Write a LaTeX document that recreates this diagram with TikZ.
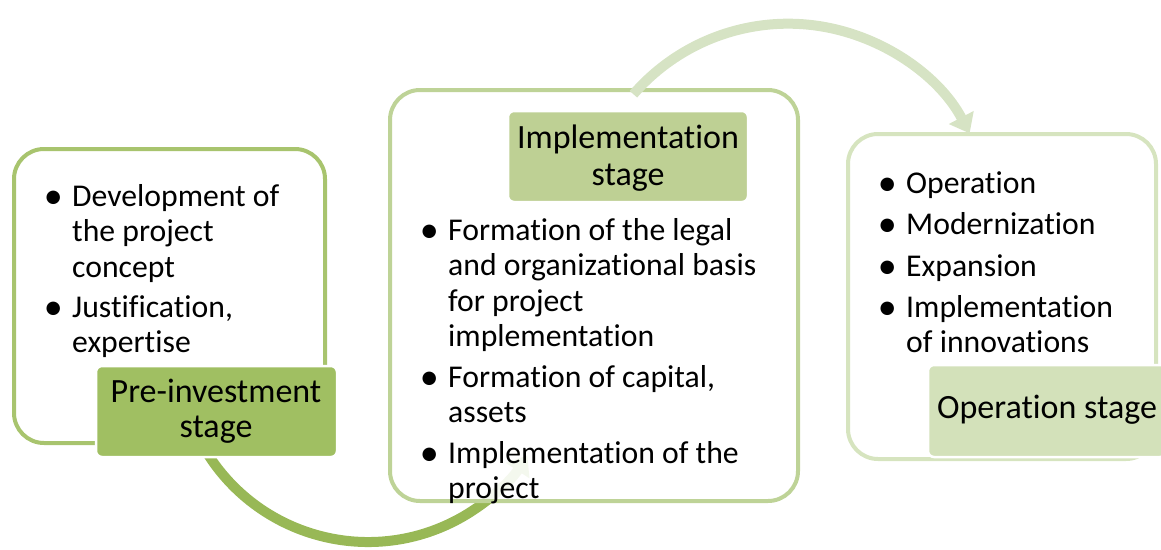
\documentclass[tikz,border=0pt]{standalone}
\usepackage{fontspec}
\setmainfont{Carlito}[Ligatures={NoCommon}]
\usetikzlibrary{arrows.meta}
\definecolor{arrowA}{RGB}{152,184,86}
\definecolor{borderA}{RGB}{168,196,110}
\definecolor{labelA}{RGB}{160,191,98}
\definecolor{borderB}{RGB}{190,211,151}
\definecolor{labelB}{RGB}{190,208,148}
\definecolor{borderC}{RGB}{214,228,191}
\definecolor{labelC}{RGB}{211,225,186}
\definecolor{arrowC}{RGB}{214,227,196}
\newcommand{\bul}{\llap{\raisebox{-2pt}{\scalebox{1.2}{\textbullet}}\hspace{9.5pt}}}
\begin{document}
\begin{tikzpicture}[x=1pt,y=-1pt,
  stagebox/.style={draw, line width=4pt, rounded corners=30pt, fill=white, inner sep=0pt},
  stagelabel/.style={draw=white, line width=2.5pt, rounded corners=6pt, inner sep=0pt},
  body/.style={font=\fontsize{31.7}{35.5}\selectfont, anchor=base west, inner sep=0pt},
  ltext/.style={font=\fontsize{34}{36.5}\selectfont, anchor=base, inner sep=0pt},
  bigarrow/.style={line width=10pt, -{Triangle[width=27pt,length=18pt]}}]
\useasboundingbox (0,0) rectangle (1161,549);

% arrow 1 (pre-investment -> implementation)
\coordinate (a1s) at (203.5,447);
\draw[bigarrow, arrowA] (a1s) arc[start angle=150, end angle=33, radius=190];

% box 1
\node[stagebox, draw=borderA, minimum width=311pt, minimum height=294pt] (box1) at (169.5,296) {};
\node[stagelabel, fill=labelA, minimum width=241pt, minimum height=91pt] (lab1) at (216.5,411.5) {};
\node[ltext] (lab1t1) at (216,402) {Pre-investment};
\node[ltext] (lab1t2) at (216,437) {stage};
\node[body] (i11) at (72,206) {\bul\begin{tabular}[t]{@{}l@{}}Development of\\the project\\concept\end{tabular}};
\node[body] (i12) at (72,317) {\bul\begin{tabular}[t]{@{}l@{}}Justification,\\expertise\end{tabular}};

% box 2
\node[stagebox, draw=borderB, fill opacity=0.9, minimum width=408pt, minimum height=411pt] (box2) at (594,295.5) {};
\node[body] (i21) at (448,240) {\bul\begin{tabular}[t]{@{}l@{}}Formation of the legal\\and organizational basis\\for project\\implementation\end{tabular}};
\node[body] (i22) at (448,387) {\bul\begin{tabular}[t]{@{}l@{}}Formation of capital,\\assets\end{tabular}};
\node[body] (i23) at (448,463) {\bul\begin{tabular}[t]{@{}l@{}}Implementation of the\\project\end{tabular}};

% box 3
\node[stagebox, draw=borderC, minimum width=308pt, minimum height=325pt] (box3) at (1002,296.5) {};
\node[stagelabel, fill=labelC, minimum width=238pt, minimum height=92pt] (lab3) at (1047,411) {};
\node[ltext] (lab3t) at (1047,418) {Operation stage};
\node[body] (i31) at (906,193) {\bul Operation};
\node[body] (i32) at (906,234) {\bul Modernization};
\node[body] (i33) at (906,276) {\bul Expansion};
\node[body] (i34) at (906,317) {\bul\begin{tabular}[t]{@{}l@{}}Implementation\\of innovations\end{tabular}};

% arrow 2 (implementation -> operation)
\coordinate (a2s) at (633.4,94.2);
\begin{scope}
  \clip (0,0) rectangle (1161,105) (720,105) rectangle (1161,549);
  \draw[bigarrow, arrowC] (a2s) arc[start angle=-139, end angle=-27.7, radius=205];
\end{scope}

% label 2
\node[stagelabel, fill=labelB, minimum width=240pt, minimum height=91pt] (lab2) at (628,156.5) {};
\node[ltext] (lab2t1) at (628,148) {Implementation};
\node[ltext] (lab2t2) at (628,185) {stage};
\end{tikzpicture}
\end{document}
